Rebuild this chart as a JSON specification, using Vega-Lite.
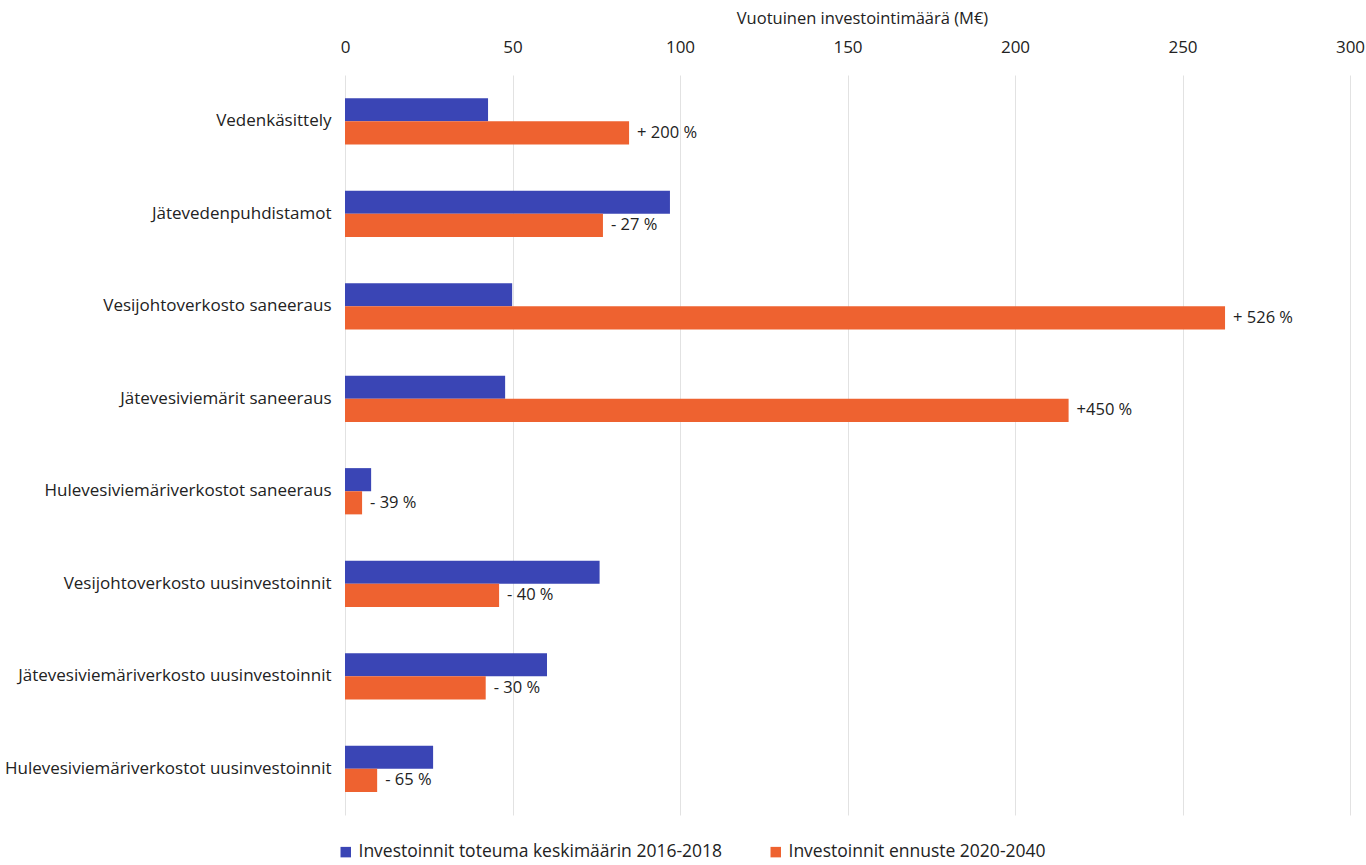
{
  "$schema": "https://vega.github.io/schema/vega-lite/v6.json",
  "width": 1005,
  "height": 740,
  "autosize": "none",
  "padding": {"left": 345, "top": 75, "right": 16, "bottom": 50},
  "background": "white",
  "config": {
    "font": "Open Sans",
    "view": {"stroke": null},
    "axis": {"labelFont": "Open Sans", "titleFont": "Open Sans"},
    "legend": {"labelFont": "Open Sans"}
  },
  "data": {
    "values": [
      {"kohde": "Vedenkäsittely", "sarja": "Investoinnit toteuma keskimäärin 2016-2018", "arvo": 42.7, "muutos": ""},
      {"kohde": "Vedenkäsittely", "sarja": "Investoinnit ennuste 2020-2040", "arvo": 84.8, "muutos": "+ 200 %"},
      {"kohde": "Jätevedenpuhdistamot", "sarja": "Investoinnit toteuma keskimäärin 2016-2018", "arvo": 97.0, "muutos": ""},
      {"kohde": "Jätevedenpuhdistamot", "sarja": "Investoinnit ennuste 2020-2040", "arvo": 77.0, "muutos": "- 27 %"},
      {"kohde": "Vesijohtoverkosto saneeraus", "sarja": "Investoinnit toteuma keskimäärin 2016-2018", "arvo": 49.9, "muutos": ""},
      {"kohde": "Vesijohtoverkosto saneeraus", "sarja": "Investoinnit ennuste 2020-2040", "arvo": 262.7, "muutos": "+ 526 %"},
      {"kohde": "Jätevesiviemärit saneeraus", "sarja": "Investoinnit toteuma keskimäärin 2016-2018", "arvo": 47.8, "muutos": ""},
      {"kohde": "Jätevesiviemärit saneeraus", "sarja": "Investoinnit ennuste 2020-2040", "arvo": 216.0, "muutos": "+450 %"},
      {"kohde": "Hulevesiviemäriverkostot saneeraus", "sarja": "Investoinnit toteuma keskimäärin 2016-2018", "arvo": 7.8, "muutos": ""},
      {"kohde": "Hulevesiviemäriverkostot saneeraus", "sarja": "Investoinnit ennuste 2020-2040", "arvo": 5.1, "muutos": "- 39 %"},
      {"kohde": "Vesijohtoverkosto uusinvestoinnit", "sarja": "Investoinnit toteuma keskimäärin 2016-2018", "arvo": 76.0, "muutos": ""},
      {"kohde": "Vesijohtoverkosto uusinvestoinnit", "sarja": "Investoinnit ennuste 2020-2040", "arvo": 46.0, "muutos": "- 40 %"},
      {"kohde": "Jätevesiviemäriverkosto uusinvestoinnit", "sarja": "Investoinnit toteuma keskimäärin 2016-2018", "arvo": 60.3, "muutos": ""},
      {"kohde": "Jätevesiviemäriverkosto uusinvestoinnit", "sarja": "Investoinnit ennuste 2020-2040", "arvo": 42.0, "muutos": "- 30 %"},
      {"kohde": "Hulevesiviemäriverkostot uusinvestoinnit", "sarja": "Investoinnit toteuma keskimäärin 2016-2018", "arvo": 26.3, "muutos": ""},
      {"kohde": "Hulevesiviemäriverkostot uusinvestoinnit", "sarja": "Investoinnit ennuste 2020-2040", "arvo": 9.6, "muutos": "- 65 %"}
    ]
  },
  "encoding": {
    "y": {
      "field": "kohde",
      "type": "nominal",
      "sort": null,
      "scale": {"paddingInner": 0.5, "paddingOuter": 0.25},
      "axis": {"title": null, "domain": false, "ticks": false, "labelFontSize": 17, "labelColor": "#222222", "labelPadding": 14, "labelLimit": 400}
    },
    "yOffset": {
      "field": "sarja",
      "type": "nominal",
      "sort": ["Investoinnit toteuma keskimäärin 2016-2018", "Investoinnit ennuste 2020-2040"]
    },
    "x": {
      "field": "arvo",
      "type": "quantitative",
      "scale": {"domain": [0, 300], "nice": false},
      "axis": {
        "orient": "top",
        "values": [0, 50, 100, 150, 200, 250, 300],
        "title": "Vuotuinen investointimäärä (M€)",
        "titleFontSize": 16.5,
        "titleFontWeight": "normal",
        "titleColor": "#222222",
        "titlePadding": 12,
        "titleX": 517,
        "labelFontSize": 17,
        "labelColor": "#222222",
        "labelPadding": 19,
        "domain": false,
        "ticks": false,
        "grid": true,
        "gridColor": "#e2e2e2",
        "labelFlush": false
      }
    }
  },
  "layer": [
    {
      "mark": {"type": "bar"},
      "encoding": {
        "color": {
          "field": "sarja",
          "type": "nominal",
          "sort": ["Investoinnit toteuma keskimäärin 2016-2018", "Investoinnit ennuste 2020-2040"],
          "scale": {"domain": ["Investoinnit toteuma keskimäärin 2016-2018", "Investoinnit ennuste 2020-2040"], "range": ["#3a45b5", "#ee6230"]},
          "legend": {
            "title": null,
            "orient": "none",
            "direction": "horizontal",
            "legendX": -8,
            "legendY": 768,
            "symbolType": "square",
            "symbolSize": 110,
            "symbolOpacity": 1,
            "labelFontSize": 17.5,
            "labelColor": "#222222",
            "labelLimit": 600,
            "columnPadding": 44,
            "labelOffset": 4
          }
        }
      }
    },
    {
      "transform": [{"filter": "datum.muutos != ''"}],
      "mark": {"type": "text", "align": "left", "baseline": "middle", "dx": 8, "fontSize": 16.5, "color": "#222222"},
      "encoding": {
        "text": {"field": "muutos"}
      }
    }
  ]
}
